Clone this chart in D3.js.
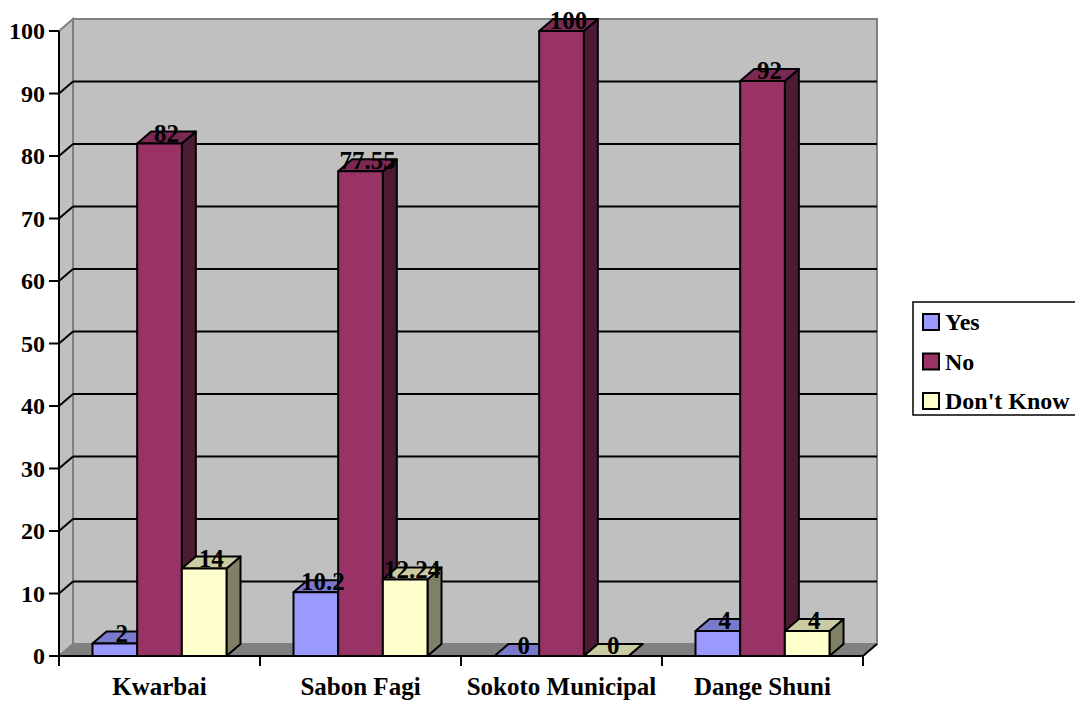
<!DOCTYPE html>
<html>
<head>
<meta charset="utf-8">
<script src="https://cdn.jsdelivr.net/npm/d3@7"></script>
<style>
  html, body { margin: 0; padding: 0; background: #fff; }
  svg { display: block; font-family: "Liberation Serif", "Times New Roman", serif; font-weight: bold; }
</style>
</head>
<body>
<svg id="chart" width="1075" height="703"></svg>
<script>
// Survey responses per location (percent)
const categories = ["Kwarbai", "Sabon Fagi", "Sokoto Municipal", "Dange Shuni"];
const seriesNames = ["Yes", "No", "Don't Know"];
const yesValues = [2, 10.2, 0, 4];
const noValues = [82, 77.55, 100, 92];
const dontKnowValues = [14, 12.24, 0, 4];
const yTicks = [0, 10, 20, 30, 40, 50, 60, 70, 80, 90, 100];

const seriesValues = [yesValues, noValues, dontKnowValues];
const seriesColors = ["#9999FF", "#993366", "#FFFFCC"];

const svg = d3.select("#chart");

// plot frame and 3D depth offset
const plotLeft = 59, plotRight = 863, plotBottom = 656, plotTop = 31;
const dx = 14, dy = -12;

const x = d3.scaleBand().domain(categories).range([plotLeft, plotRight]).paddingInner(0).paddingOuter(0);
const xs = d3.scaleBand().domain(seriesNames).range([0, x.bandwidth()]).paddingInner(0).paddingOuter(0.75);
const y = d3.scaleLinear().domain([0, 100]).range([plotBottom, plotTop]);

const shade = (c, k) => { const h = d3.rgb(c); return d3.rgb(h.r * k, h.g * k, h.b * k).formatHex(); };
const pts = arr => arr.map(p => p.join(",")).join(" ");

// back wall
const yMaxPx = y(100);
svg.append("polygon")
  .attr("points", pts([[plotLeft + dx, yMaxPx + dy], [plotRight + dx, yMaxPx + dy], [plotRight + dx, plotBottom + dy], [plotLeft + dx, plotBottom + dy]]))
  .attr("fill", "#C0C0C0").attr("stroke", "#808080").attr("stroke-width", 2);
// left side wall
svg.append("polygon")
  .attr("points", pts([[plotLeft, yMaxPx], [plotLeft + dx, yMaxPx + dy], [plotLeft + dx, plotBottom + dy], [plotLeft, plotBottom]]))
  .attr("fill", "#C0C0C0").attr("stroke", "#808080").attr("stroke-width", 2);
// floor
svg.append("polygon")
  .attr("points", pts([[plotLeft, plotBottom], [plotRight, plotBottom], [plotRight + dx, plotBottom + dy], [plotLeft + dx, plotBottom + dy]]))
  .attr("fill", "#808080").attr("stroke", "#808080").attr("stroke-width", 1);

// gridlines on the back wall and left wall
const grid = svg.append("g");
yTicks.filter(t => t > 0 && t < 100).forEach(t => {
  grid.append("line")
    .attr("x1", plotLeft + dx).attr("x2", plotRight + dx)
    .attr("y1", y(t) + dy).attr("y2", y(t) + dy)
    .attr("stroke", "#000").attr("stroke-width", 2);
  grid.append("line")
    .attr("x1", plotLeft).attr("x2", plotLeft + dx)
    .attr("y1", y(t)).attr("y2", y(t) + dy)
    .attr("stroke", "#000").attr("stroke-width", 2);
});

// bars
const bars = svg.append("g");
categories.forEach((cat, ci) => {
  seriesNames.forEach((s, si) => {
    const v = seriesValues[si][ci];
    const color = seriesColors[si];
    const x0 = x(cat) + xs(s);
    const x1 = x0 + xs.bandwidth();
    const yt = y(v), yb = y(0);
    const g = bars.append("g").attr("stroke", "#000").attr("stroke-width", 2).attr("stroke-linejoin", "round");
    // side face
    g.append("polygon")
      .attr("points", pts([[x1, yt], [x1 + dx, yt + dy], [x1 + dx, yb + dy], [x1, yb]]))
      .attr("fill", shade(color, 0.5));
    // top face
    g.append("polygon")
      .attr("points", pts([[x0, yt], [x1, yt], [x1 + dx, yt + dy], [x0 + dx, yt + dy]]))
      .attr("fill", shade(color, 0.8));
    // front face
    if (v > 0) {
      g.append("rect")
        .attr("x", x0).attr("y", yt).attr("width", x1 - x0).attr("height", yb - yt)
        .attr("fill", color);
    }
  });
});

// value labels
const labels = svg.append("g").attr("font-size", 25).attr("text-anchor", "middle").attr("fill", "#000");
categories.forEach((cat, ci) => {
  seriesNames.forEach((s, si) => {
    const v = seriesValues[si][ci];
    const cx = x(cat) + xs(s) + xs.bandwidth() / 2 + dx / 2;
    labels.append("text").attr("x", cx).attr("y", y(v) - 2).text(String(v));
  });
});

// y axis
const yAxis = svg.append("g");
yAxis.append("line").attr("x1", plotLeft).attr("x2", plotLeft).attr("y1", plotTop).attr("y2", plotBottom)
  .attr("stroke", "#000").attr("stroke-width", 2);
yTicks.forEach(t => {
  yAxis.append("line").attr("x1", plotLeft - 10).attr("x2", plotLeft).attr("y1", y(t)).attr("y2", y(t))
    .attr("stroke", "#000").attr("stroke-width", 2);
  yAxis.append("text").attr("x", plotLeft - 14).attr("y", y(t)).attr("dy", "0.35em")
    .attr("text-anchor", "end").attr("font-size", 24).text(t);
});

// x axis
const xAxis = svg.append("g");
xAxis.append("line").attr("x1", plotLeft).attr("x2", plotRight).attr("y1", plotBottom).attr("y2", plotBottom)
  .attr("stroke", "#000").attr("stroke-width", 2);
xAxis.append("line").attr("x1", plotRight).attr("x2", plotRight + dx).attr("y1", plotBottom).attr("y2", plotBottom + dy)
  .attr("stroke", "#000").attr("stroke-width", 2);
const boundaries = categories.map(c => x(c)).concat([plotRight]);
boundaries.forEach(bx => {
  xAxis.append("line").attr("x1", bx).attr("x2", bx).attr("y1", plotBottom).attr("y2", plotBottom + 10)
    .attr("stroke", "#000").attr("stroke-width", 2);
});
categories.forEach(c => {
  xAxis.append("text").attr("x", x(c) + x.bandwidth() / 2).attr("y", 695)
    .attr("text-anchor", "middle").attr("font-size", 25).text(c);
});

// legend
const legend = svg.append("g");
legend.append("rect").attr("x", 913).attr("y", 302).attr("width", 170).attr("height", 113)
  .attr("fill", "#fff").attr("stroke", "#000").attr("stroke-width", 1.5);
seriesNames.forEach((s, i) => {
  const cy = 322 + i * 39.5;
  legend.append("rect").attr("x", 923).attr("y", cy - 8).attr("width", 16).attr("height", 16)
    .attr("fill", seriesColors[i]).attr("stroke", "#000").attr("stroke-width", 2);
  legend.append("text").attr("x", 945).attr("y", cy).attr("dy", "0.35em")
    .attr("font-size", 24).text(s);
});
</script>
</body>
</html>
